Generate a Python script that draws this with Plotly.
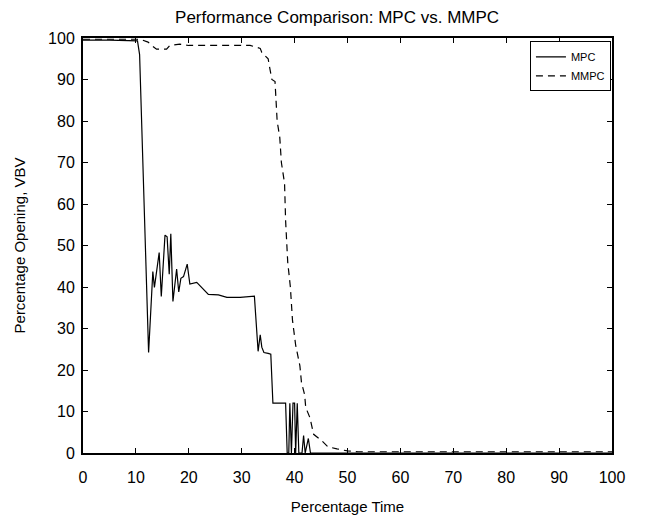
import plotly.graph_objects as go

# MPC response (percentage time vs. valve opening)
t_mpc = [0, 5, 10.3, 10.7, 12.4, 13.2, 13.5, 14.4, 14.8, 15.5, 15.9, 16.3, 16.6, 17.0,
         17.7, 18.1, 18.5, 19.0, 19.7, 20.2, 21.5, 23.7, 25.6, 27.2, 29.7, 32.4, 33.1,
         33.5, 33.8, 34.2, 35.0, 35.5, 35.9, 38.3, 38.6, 38.9, 39.1, 39.4, 39.7, 40.0,
         40.2, 40.5, 40.8, 41.4, 41.7, 42.0, 42.6, 43.0, 100]
mpc = [99.5, 99.5, 99.3, 96, 24.2, 43.7, 39.9, 48.3, 37.7, 52.5, 52.1, 43.1, 52.8, 36.5,
       44.3, 38.8, 42.1, 42.5, 45.5, 40.7, 41.1, 38.2, 38.1, 37.5, 37.5, 37.8, 24.5,
       28.5, 25.5, 24.2, 24, 23.8, 12, 12, 0, 0, 12, 0, 12, 12,
       0, 12, 0, 0, 4.2, 0, 3.5, 0, 0]

# MMPC response
t_mmpc = [0, 10.2, 11.2, 12.3, 13.2, 13.9, 15.8, 16.4, 18.3, 20, 31.6, 33.5, 33.8, 35.0,
          35.2, 35.7, 36.3, 36.5, 36.7, 37.2, 37.5, 38.1, 38.3, 38.7, 39.2, 39.6, 40.2,
          41.0, 41.3, 41.9, 42.1, 42.9, 43.2, 43.6, 45.1, 46.3, 48, 50, 52, 100]
mmpc = [99.7, 99.7, 99.5, 99, 98, 97.3, 97.3, 98.2, 98.5, 98.2, 98.2, 97.5, 96.5, 95,
        93.5, 90, 89.5, 85, 80, 76, 70, 65, 56, 46, 40, 32, 26,
        21, 17, 14, 11, 8.5, 7, 4.5, 3, 1.5, 1, 0.5, 0.3, 0.3]

tick_vals = list(range(0, 101, 10))

fig = go.Figure()
fig.add_trace(go.Scatter(x=t_mpc, y=mpc, mode="lines", name="MPC",
                         line=dict(color="black", width=1.2)))
fig.add_trace(go.Scatter(x=t_mmpc, y=mmpc, mode="lines", name="MMPC",
                         line=dict(color="black", width=1.2, dash="7px,5px")))

axis_style = dict(range=[0, 100], tickvals=tick_vals, ticks="inside", ticklen=5,
                  tickcolor="black", showline=True, linecolor="black", linewidth=2,
                  mirror="ticks", showgrid=False, zeroline=False, automargin=False,
                  tickfont=dict(size=16, color="black"))

# page body has an 8px margin, so the figure is a bit smaller than the window
fig.update_layout(
    width=639, height=515,
    paper_bgcolor="white", plot_bgcolor="white",
    font=dict(family="Liberation Sans, Arial, sans-serif", color="black"),
    margin=dict(l=75, r=35, t=30, b=70),
    title=dict(text="Performance Comparison: MPC vs. MMPC", x=0.515, xanchor="center",
               y=0.994, yanchor="top", font=dict(size=17)),
    xaxis=dict(axis_style, ticklabelstandoff=9,
               title=dict(text="Percentage Time", font=dict(size=15), standoff=16)),
    yaxis=dict(axis_style, ticklabelstandoff=3,
               title=dict(text="Percentage Opening, VBV", font=dict(size=15), standoff=19)),
    legend=dict(x=0.998, y=0.992, xanchor="right", yanchor="top", bgcolor="white",
                bordercolor="black", borderwidth=1, font=dict(size=11),
                tracegroupgap=0, itemwidth=30),
    showlegend=True,
)

fig.write_html("out.html")
